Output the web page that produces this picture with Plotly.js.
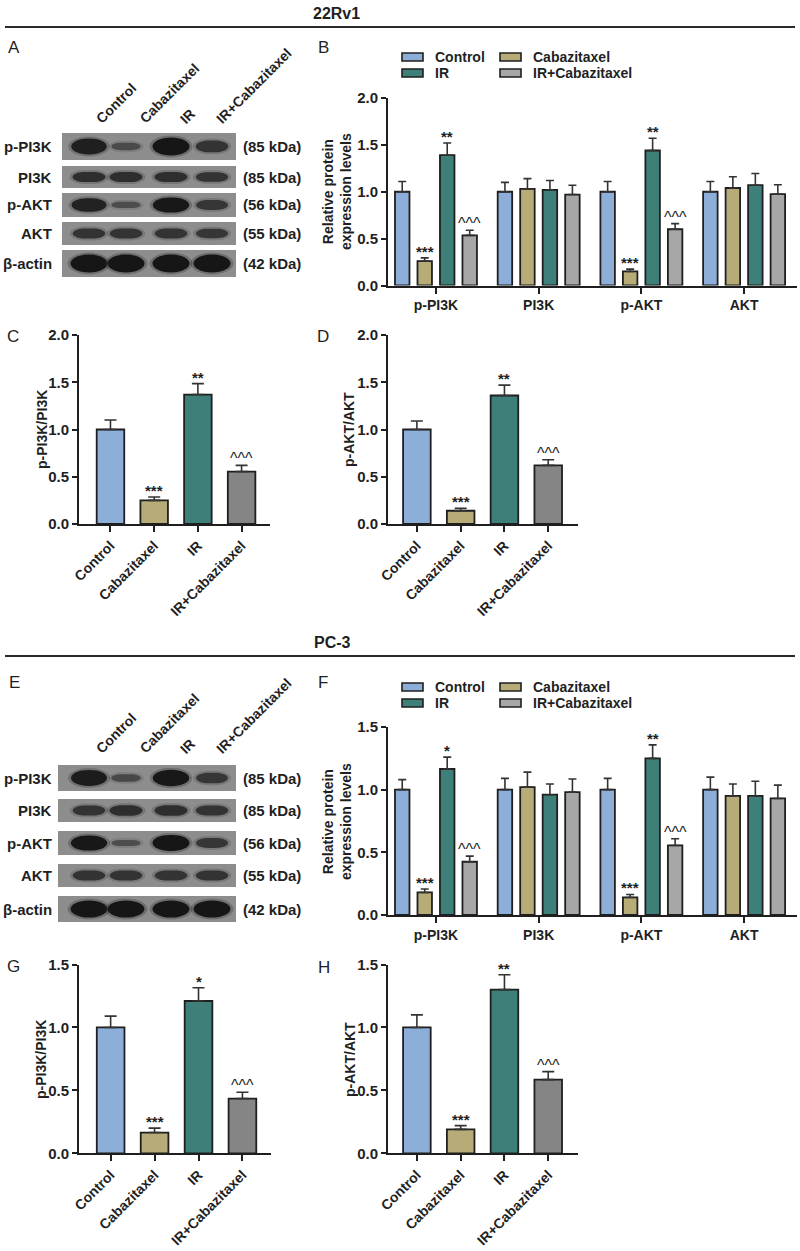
<!DOCTYPE html>
<html><head><meta charset="utf-8">
<script src="https://cdn.plot.ly/plotly-3.0.1.min.js"></script>
<style>body{margin:0;background:#fff}#chart{width:800px;height:1251px}</style>
</head><body><div id="chart"></div>
<script>
// ---------------- data ----------------
const groups = ['Control', 'Cabazitaxel', 'IR', 'IR+Cabazitaxel'];
const proteins = ['p-PI3K', 'PI3K', 'p-AKT', 'AKT'];
const blotRows = ['p-PI3K', 'PI3K', 'p-AKT', 'AKT', 'β-actin'];
const blotKDa = ['(85 kDa)', '(85 kDa)', '(56 kDa)', '(55 kDa)', '(42 kDa)'];
const cellLines = ['22Rv1', 'PC-3'];
const panelLetters = ['A', 'B', 'C', 'D', 'E', 'F', 'G', 'H'];

// 22Rv1 – panel B (values across proteins, one array per group)
const rv1Control = [1.00, 1.00, 1.00, 1.00];
const rv1ControlErr = [0.11, 0.10, 0.11, 0.11];
const rv1Caba = [0.26, 1.03, 0.15, 1.04];
const rv1CabaErr = [0.035, 0.11, 0.025, 0.12];
const rv1IR = [1.39, 1.02, 1.44, 1.07];
const rv1IRErr = [0.13, 0.10, 0.13, 0.125];
const rv1IRCaba = [0.535, 0.97, 0.60, 0.975];
const rv1IRCabaErr = [0.055, 0.10, 0.06, 0.10];
const rv1CabaSig = ['***', '', '***', ''];
const rv1IRSig = ['**', '', '**', ''];
const rv1IRCabaSig = ['^^^', '', '^^^', ''];

// 22Rv1 – panels C, D
const rv1PI3KRatio = [1.00, 0.25, 1.37, 0.555];
const rv1PI3KRatioErr = [0.10, 0.035, 0.115, 0.065];
const rv1PI3KRatioSig = ['', '***', '**', '^^^'];
const rv1AKTRatio = [1.00, 0.14, 1.36, 0.62];
const rv1AKTRatioErr = [0.09, 0.025, 0.11, 0.06];
const rv1AKTRatioSig = ['', '***', '**', '^^^'];

// PC-3 – panel F
const pcControl = [1.00, 1.00, 1.00, 1.00];
const pcControlErr = [0.08, 0.09, 0.09, 0.10];
const pcCaba = [0.18, 1.02, 0.14, 0.95];
const pcCabaErr = [0.027, 0.12, 0.024, 0.095];
const pcIR = [1.165, 0.96, 1.25, 0.95];
const pcIRErr = [0.095, 0.085, 0.107, 0.117];
const pcIRCaba = [0.425, 0.98, 0.555, 0.93];
const pcIRCabaErr = [0.045, 0.105, 0.053, 0.106];
const pcCabaSig = ['***', '', '***', ''];
const pcIRSig = ['*', '', '**', ''];
const pcIRCabaSig = ['^^^', '', '^^^', ''];

// PC-3 – panels G, H
const pcPI3KRatio = [1.00, 0.165, 1.21, 0.435];
const pcPI3KRatioErr = [0.09, 0.035, 0.105, 0.05];
const pcPI3KRatioSig = ['', '***', '*', '^^^'];
const pcAKTRatio = [1.00, 0.19, 1.30, 0.585];
const pcAKTRatioErr = [0.10, 0.03, 0.118, 0.064];
const pcAKTRatioSig = ['', '***', '**', '^^^'];

// western blot band strengths (rows x lanes, 0..1)
const blotStrengthRv1 = [[0.85, 0.22, 1.0, 0.55], [0.6, 0.6, 0.6, 0.55], [0.8, 0.2, 0.95, 0.5], [0.55, 0.55, 0.55, 0.5], [1, 1, 1, 1]];
const blotStrengthPC3 = [[0.9, 0.25, 0.95, 0.5], [0.55, 0.6, 0.6, 0.55], [0.95, 0.18, 1.0, 0.5], [0.55, 0.55, 0.55, 0.55], [1, 1, 1, 1]];

// ---------------- styling ----------------
const W = 800, H = 1251;
const X = px => px / W;
const Y = py => 1 - py / H;
const FONT = 'Arial, "Liberation Sans", Helvetica, sans-serif';
const INK = '#1f1f1f';
const COL = {ctrl: '#8DAED9', caba: '#B7AC77', ir: '#3F7F7A', ircLight: '#A7A7A7', ircDark: '#858585'};

const traces = [];
const annotations = [];
const shapes = [];
const layout = {
  width: W, height: H, margin: {l: 0, r: 0, t: 0, b: 0},
  paper_bgcolor: '#fff', plot_bgcolor: 'rgba(0,0,0,0)',
  showlegend: false, barmode: 'group', bargap: 0.124, bargroupgap: 0.356,
  font: {family: FONT, color: INK},
};

function yAxisDef(top, bottom, max, anchor) {
  return {
    domain: [Y(bottom), Y(top)], range: [0, max], anchor: anchor,
    showline: true, linewidth: 2, linecolor: INK, ticks: 'outside', ticklen: 5, tickwidth: 2, tickcolor: INK,
    tick0: 0, dtick: 0.5, tickformat: '.1f', showgrid: false, zeroline: false, automargin: false,
    tickfont: {family: FONT, size: 15, color: INK, weight: 'bold'}, fixedrange: true,
  };
}
function xAxisDef(left, right, r0, r1, anchor, angle) {
  return {
    domain: [X(left), X(right)], range: [r0, r1], anchor: anchor, type: 'category',
    showline: true, linewidth: 2, linecolor: INK, ticks: 'outside', ticklen: 6, tickwidth: 2, tickcolor: INK,
    showgrid: false, zeroline: false, automargin: false, tickangle: angle,
    tickfont: {family: FONT, size: 14, color: INK, weight: 'bold'}, fixedrange: true,
  };
}
function star(xref, yref, x, y, text) {
  if (!text) return;
  const isStar = text.indexOf('*') >= 0;
  annotations.push({xref, yref, x, y, text, showarrow: false, xanchor: 'center', yanchor: 'bottom',
    yshift: isStar ? -4 : -4, font: {family: FONT, size: isStar ? 15 : 16, color: INK, weight: isStar ? 'bold' : 'normal'}});
}
function txt(x, y, text, opts) {
  annotations.push(Object.assign({xref: 'paper', yref: 'paper', x: X(x), y: Y(y), text, showarrow: false,
    xanchor: 'center', yanchor: 'middle', font: {family: FONT, size: 14, color: INK, weight: 'bold'}}, opts || {}));
}

// grouped panel (B / F)
function groupedPanel(ax, series, sigs, irColor) {
  const colors = [COL.ctrl, COL.caba, COL.ir, irColor];
  series.forEach((s, k) => {
    traces.push({type: 'bar', x: proteins, y: s.v, name: groups[k], xaxis: 'x' + ax, yaxis: 'y' + ax,
      marker: {color: colors[k], line: {color: INK, width: 1.8}},
      error_y: {type: 'data', symmetric: false, array: s.e, arrayminus: s.v.map(() => 0), color: '#333', thickness: 1.6, width: 4},
      hoverinfo: 'skip'});
    const slot = (1 - layout.bargap) / 4;
    s.v.forEach((v, i) => {
      if (sigs[k]) star('x' + ax, 'y' + ax, i + (k - 1.5) * slot, v + s.e[i], sigs[k][i]);
    });
  });
}
// single panel (C / D / G / H)
function singlePanel(ax, vals, errs, sigs) {
  traces.push({type: 'bar', x: groups, y: vals, xaxis: 'x' + ax, yaxis: 'y' + ax, width: 0.63,
    marker: {color: [COL.ctrl, COL.caba, COL.ir, COL.ircDark], line: {color: INK, width: 1.8}},
    error_y: {type: 'data', symmetric: false, array: errs, arrayminus: vals.map(() => 0), color: '#333', thickness: 1.6, width: 6},
    hoverinfo: 'skip'});
  vals.forEach((v, i) => star('x' + ax, 'y' + ax, i, v + errs[i], sigs[i]));
}

// ---- axes ----
layout.xaxis = xAxisDef(388, 797, -0.467, 3.515, 'y', 0);
layout.yaxis = yAxisDef(98, 285.5, 2.0, 'x');
layout.xaxis2 = xAxisDef(79, 270, -0.72, 3.65, 'y2', -45);
layout.yaxis2 = yAxisDef(335, 524, 2.0, 'x2');
layout.xaxis3 = xAxisDef(388, 578, -0.66, 3.68, 'y3', -45);
layout.yaxis3 = yAxisDef(335, 524, 2.0, 'x3');
layout.xaxis4 = xAxisDef(388, 797, -0.467, 3.515, 'y4', 0);
layout.yaxis4 = yAxisDef(727, 915, 1.5, 'x4');
layout.xaxis5 = xAxisDef(79, 271, -0.72, 3.65, 'y5', -45);
layout.yaxis5 = yAxisDef(964.5, 1153.3, 1.5, 'x5');
layout.xaxis6 = xAxisDef(388, 578, -0.66, 3.68, 'y6', -45);
layout.yaxis6 = yAxisDef(964.5, 1153.3, 1.5, 'x6');

groupedPanel('', [{v: rv1Control, e: rv1ControlErr}, {v: rv1Caba, e: rv1CabaErr}, {v: rv1IR, e: rv1IRErr}, {v: rv1IRCaba, e: rv1IRCabaErr}],
  [null, rv1CabaSig, rv1IRSig, rv1IRCabaSig], COL.ircLight);
singlePanel('2', rv1PI3KRatio, rv1PI3KRatioErr, rv1PI3KRatioSig);
singlePanel('3', rv1AKTRatio, rv1AKTRatioErr, rv1AKTRatioSig);
groupedPanel('4', [{v: pcControl, e: pcControlErr}, {v: pcCaba, e: pcCabaErr}, {v: pcIR, e: pcIRErr}, {v: pcIRCaba, e: pcIRCabaErr}],
  [null, pcCabaSig, pcIRSig, pcIRCabaSig], COL.ircLight);
singlePanel('5', pcPI3KRatio, pcPI3KRatioErr, pcPI3KRatioSig);
singlePanel('6', pcAKTRatio, pcAKTRatioErr, pcAKTRatioSig);

// ---- axis titles ----
const rot = {textangle: -90};
txt(337, 192, 'Relative protein<br>expression levels', rot);
txt(337, 822, 'Relative protein<br>expression levels', rot);
txt(42, 430, 'p-PI3K/PI3K', rot);
txt(349, 430, 'p-AKT/AKT', rot);
txt(41, 1060, 'p-PI3K/PI3K', rot);
txt(350, 1060, 'p-AKT/AKT', rot);

// ---- section titles and rules ----
txt(336, 13, cellLines[0], {font: {family: FONT, size: 16, color: INK, weight: 'bold'}});
txt(332, 642, cellLines[1], {font: {family: FONT, size: 16, color: INK, weight: 'bold'}});
[27, 656].forEach(yy => shapes.push({type: 'line', xref: 'paper', yref: 'paper', x0: X(5), x1: X(795), y0: Y(yy), y1: Y(yy), line: {color: '#2a2a2a', width: 2}}));

// ---- panel letters ----
const letterPos = [[14, 48], [323, 48], [13, 336], [323, 336], [14, 682], [323, 682], [13, 966], [324, 967]];
panelLetters.forEach((L, i) => txt(letterPos[i][0], letterPos[i][1], L, {font: {family: FONT, size: 17, color: INK, weight: 'normal'}}));

// ---- legends ----
function legend(yRow1, yRow2, irColor) {
  const items = [[groups[0], COL.ctrl, 402, yRow1], [groups[1], COL.caba, 500, yRow1], [groups[2], COL.ir, 402, yRow2], [groups[3], irColor, 500, yRow2]];
  items.forEach(([name, c, x0, yc]) => {
    shapes.push({type: 'rect', xref: 'paper', yref: 'paper', x0: X(x0), x1: X(x0 + 21), y0: Y(yc + 4), y1: Y(yc - 4), fillcolor: c, line: {color: INK, width: 1.6}});
    txt(x0 + 31, yc, name, {xanchor: 'left'});
  });
}
legend(57, 73, COL.ircLight);
legend(687, 703, COL.ircLight);

// ---- western blots ----
function bandPath(cx, cy, w, h) {
  const x0 = cx - w / 2, x1 = cx + w / 2, ry = h / 2, rx = Math.min(w / 2, h * 0.9 + 3), k = 0.552;
  const y0 = cy - ry, y1 = cy + ry;
  const P = (x, y) => X(x).toFixed(5) + ',' + Y(y).toFixed(5);
  return 'M' + P(x0 + rx, y0) + ' L' + P(x1 - rx, y0) +
    ' C' + P(x1 - rx + rx * k, y0) + ' ' + P(x1, cy - ry * k) + ' ' + P(x1, cy) +
    ' C' + P(x1, cy + ry * k) + ' ' + P(x1 - rx + rx * k, y1) + ' ' + P(x1 - rx, y1) +
    ' L' + P(x0 + rx, y1) +
    ' C' + P(x0 + rx - rx * k, y1) + ' ' + P(x0, cy + ry * k) + ' ' + P(x0, cy) +
    ' C' + P(x0, cy - ry * k) + ' ' + P(x0 + rx - rx * k, y0) + ' ' + P(x0 + rx, y0) + ' Z';
}
function blot(rowsY, x0, x1, lanes, strength, laneLabelBottom) {
  rowsY.forEach(([t, b], r) => {
    shapes.push({type: 'rect', xref: 'paper', yref: 'paper', x0: X(x0), x1: X(x1), y0: Y(b), y1: Y(t), fillcolor: '#8d8d8d', line: {width: 0}});
    const rh = b - t, cy = (t + b) / 2;
    lanes.forEach((cx, l) => {
      const s = strength[r][l];
      const w = 27 + 10 * s, h = rh * (0.16 + 0.5 * s), op = 0.35 + 0.65 * s;
      shapes.push({type: 'path', xref: 'paper', yref: 'paper', path: bandPath(cx, cy, w + 6, h + 4), fillcolor: '#2a2a2a', opacity: 0.3 * op, line: {width: 0}});
      shapes.push({type: 'path', xref: 'paper', yref: 'paper', path: bandPath(cx, cy, w, h), fillcolor: '#161616', opacity: op, line: {width: 0}});
    });
    txt(54, cy, blotRows[r], {xanchor: 'right', font: {family: FONT, size: 15, color: INK, weight: 'bold'}});
    txt(241, cy, blotKDa[r], {xanchor: 'left', font: {family: FONT, size: 15, color: INK, weight: 'bold'}});
  });
  const labelLeft = [90, 134, 174, 210];
  groups.forEach((g, i) => txt(labelLeft[i], laneLabelBottom, g, {xanchor: 'left', yanchor: 'bottom', textangle: -45}));
}
const lanes = [89, 126, 171, 212];
blot([[133, 160], [166, 188], [193, 217], [222, 245], [250, 277]], 62, 236, lanes, blotStrengthRv1, 129);
blot([[765, 791], [799, 822], [831, 855], [864, 887], [896, 922]], 58, 236, lanes, blotStrengthPC3, 759);

layout.annotations = annotations;
layout.shapes = shapes;
Plotly.newPlot('chart', traces, layout, {staticPlot: true, displayModeBar: false});
</script>
</body></html>
